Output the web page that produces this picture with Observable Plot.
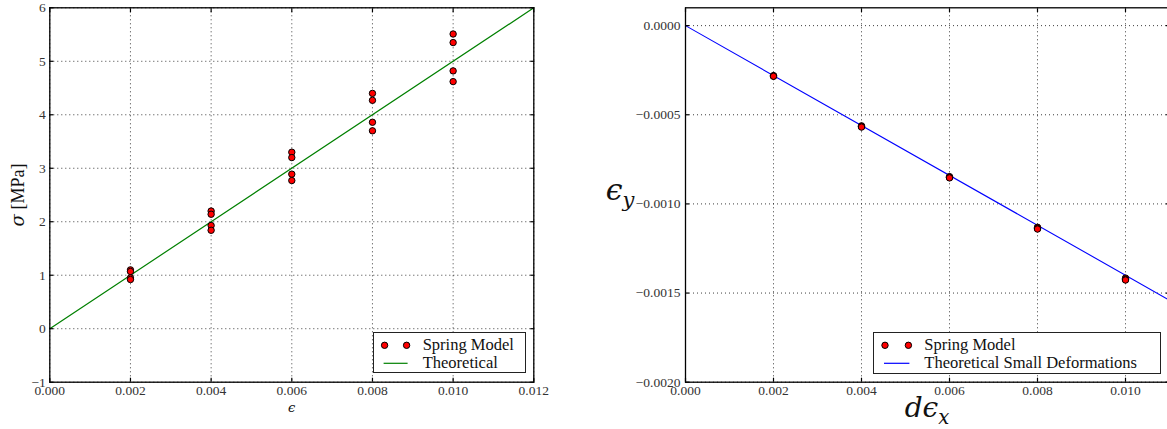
<!DOCTYPE html>
<html><head><meta charset="utf-8">
<script src="https://cdn.jsdelivr.net/npm/d3@7"></script>
<script src="https://cdn.jsdelivr.net/npm/@observablehq/plot@0.6"></script>
<style>
html,body{margin:0;padding:0;background:#fff;}
#wrap{position:relative;width:1167px;height:429px;overflow:hidden;font-family:"Liberation Serif","Times New Roman","DejaVu Serif",serif;}
.panel{position:absolute;top:0;}
.legend{position:absolute;background:#fff;border:1.3px solid #222;box-sizing:border-box;font-size:16.5px;color:#111;}
.legend svg{position:absolute;left:0;top:0;}
.legend .t{position:absolute;white-space:nowrap;line-height:1;transform:translateY(-50%);}
.lab{position:absolute;white-space:nowrap;line-height:1;color:#111;}
.m{font-family:"DejaVu Serif",serif;font-style:italic;}
</style></head>
<body><div id="wrap"></div>
<script>
// ---------- Left panel data ----------
const strainLevels = [0.002, 0.004, 0.006, 0.008, 0.010];
const stressRun1 = [1.10, 2.20, 3.30, 4.40, 5.51];
const stressRun2 = [1.07, 2.14, 3.20, 4.27, 5.35];
const stressRun3 = [0.95, 1.93, 2.89, 3.86, 4.82];
const stressRun4 = [0.92, 1.84, 2.77, 3.70, 4.62];
const theoryStrain = [0, 0.012];
const theoryStress = [0, 6];
const leftXTicks = [0, 0.002, 0.004, 0.006, 0.008, 0.010, 0.012];
const leftYTicks = [-1, 0, 1, 2, 3, 4, 5, 6];

// ---------- Right panel data ----------
const dExLevels = [0.002, 0.004, 0.006, 0.008, 0.010];
const eyRun1 = [-0.000281, -0.000562, -0.000847, -0.001131, -0.001416];
const eyRun2 = [-0.000282, -0.000565, -0.000850, -0.001135, -0.001420];
const eyRun3 = [-0.000283, -0.000567, -0.000852, -0.001138, -0.001424];
const eyRun4 = [-0.000284, -0.000569, -0.000854, -0.001141, -0.001427];
const smallDefX = [0, 0.011];
const smallDefY = [0, -0.00154];
const rightXTicks = [0, 0.002, 0.004, 0.006, 0.008, 0.010];
const rightYTicks = [0, -0.0005, -0.0010, -0.0015, -0.0020];

const leftPoints = [];
[stressRun1, stressRun2, stressRun3, stressRun4].forEach(run =>
  run.forEach((v, i) => leftPoints.push({x: strainLevels[i], y: v})));
const leftLine = theoryStrain.map((x, i) => ({x, y: theoryStress[i]}));

const rightPoints = [];
[eyRun1, eyRun2, eyRun3, eyRun4].forEach(run =>
  run.forEach((v, i) => rightPoints.push({x: dExLevels[i], y: v})));
const rightLine = smallDefX.map((x, i) => ({x, y: smallDefY[i]}));

const minus = s => s.replace("-", "\u2212");
const gridStyle = {stroke: "#000", strokeOpacity: 0.85, strokeDasharray: "1,3", strokeWidth: 0.9};
const axisStyle = {stroke: "#000", strokeWidth: 1.2, fill: "#333", label: null};
const plotStyle = {fontFamily: "'Liberation Serif', 'Times New Roman', 'DejaVu Serif', serif", fontSize: "13.5px", background: "transparent", overflow: "visible"};

const left = Plot.plot({
  width: 560, height: 429,
  marginLeft: 49.3, marginRight: 26.7, marginTop: 7.3, marginBottom: 47.3,
  x: {domain: [0, 0.012]},
  y: {domain: [-1, 6]},
  style: plotStyle,
  marks: [
    Plot.gridX(leftXTicks, gridStyle),
    Plot.gridY(leftYTicks, gridStyle),
    Plot.line(leftLine, {x: "x", y: "y", stroke: "#008000", strokeWidth: 1.2}),
    Plot.dot(leftPoints, {x: "x", y: "y", r: 3.2, fill: "#ff0000", stroke: "#000", strokeWidth: 1}),
    Plot.axisX(leftXTicks, {...axisStyle, anchor: "bottom", tickSize: -4, tickPadding: 7.5, tickFormat: d => d3.format(".3f")(d)}),
    Plot.axisX(leftXTicks, {...axisStyle, anchor: "top", tickSize: -4, tickFormat: () => ""}),
    Plot.axisY(leftYTicks, {...axisStyle, anchor: "left", tickSize: -4, tickPadding: 8, tickFormat: d => minus(String(d))}),
    Plot.axisY(leftYTicks, {...axisStyle, anchor: "right", tickSize: -4, tickFormat: () => ""}),
    Plot.frame({stroke: "#000", strokeWidth: 1.3})
  ]
});

const right = Plot.plot({
  width: 600, height: 429,
  marginLeft: 95, marginRight: 21, marginTop: 7.3, marginBottom: 47.3,
  x: {domain: [0, 0.011]},
  y: {domain: [-0.002, 0.0001]},
  style: plotStyle,
  marks: [
    Plot.gridX(rightXTicks, gridStyle),
    Plot.gridY(rightYTicks, gridStyle),
    Plot.line(rightLine, {x: "x", y: "y", stroke: "#0000ff", strokeWidth: 1.1}),
    Plot.dot(rightPoints, {x: "x", y: "y", r: 3.2, fill: "#ff0000", stroke: "#000", strokeWidth: 1}),
    Plot.axisX(rightXTicks, {...axisStyle, anchor: "bottom", tickSize: -4, tickPadding: 7.5, tickFormat: d => d3.format(".3f")(d)}),
    Plot.axisX(rightXTicks, {...axisStyle, anchor: "top", tickSize: -4, tickFormat: () => ""}),
    Plot.axisY(rightYTicks, {...axisStyle, anchor: "left", tickSize: -4, tickPadding: 9, tickFormat: d => minus(d3.format(".4f")(d))}),
    Plot.axisY(rightYTicks, {...axisStyle, anchor: "right", tickSize: -4, tickFormat: () => ""}),
    Plot.frame({stroke: "#000", strokeWidth: 1.3})
  ]
});

const wrap = document.getElementById("wrap");
left.classList.add("panel"); left.style.left = "0px";
right.classList.add("panel"); right.style.left = "590px";
wrap.appendChild(left);
wrap.appendChild(right);

function legend(x, y, w, h, lineColor, labels, mx1, mx2, tx) {
  const d = document.createElement("div");
  d.className = "legend";
  Object.assign(d.style, {left: x + "px", top: y + "px", width: w + "px", height: h + "px"});
  d.innerHTML =
    `<svg width="${w}" height="${h}">` +
    `<circle cx="${mx1}" cy="12.3" r="3.2" fill="#ff0000" stroke="#000" stroke-width="1"/>` +
    `<circle cx="${mx2}" cy="12.3" r="3.2" fill="#ff0000" stroke="#000" stroke-width="1"/>` +
    `<line x1="${mx1 - 1}" x2="${mx2 + 1}" y1="30.3" y2="30.3" stroke="${lineColor}" stroke-width="1.2"/></svg>` +
    `<span class="t" style="left:${tx}px;top:12.5px">${labels[0]}</span>` +
    `<span class="t" style="left:${tx}px;top:30.5px">${labels[1]}</span>`;
  wrap.appendChild(d);
}
legend(372.7, 331.7, 153.3, 41.6, "#008000", ["Spring Model", "Theoretical"], 10.6, 32.6, 49);
legend(873.3, 331.7, 287.7, 42.6, "#0000ff", ["Spring Model", "Theoretical Small Deformations"], 11, 34.4, 50);

function label(html, x, y, size, rot) {
  const d = document.createElement("div");
  d.className = "lab";
  d.innerHTML = html;
  Object.assign(d.style, {left: x + "px", top: y + "px", fontSize: size + "px",
    transform: `translate(-50%,-50%)` + (rot ? ` rotate(${rot}deg)` : "")});
  wrap.appendChild(d);
}
label(`<span class="m">σ</span> [MPa]`, 18, 195, 18, -90);
label(`<span class="m">ϵ</span>`, 291.7, 407, 13, 0);
label(`<span class="m">dϵ<sub style="font-size:0.7em">x</sub></span>`, 927, 411, 28, 0);
label(`<span class="m">ϵ<sub style="font-size:0.7em">y</sub></span>`, 620, 193, 30, 0);
</script>
</body></html>
